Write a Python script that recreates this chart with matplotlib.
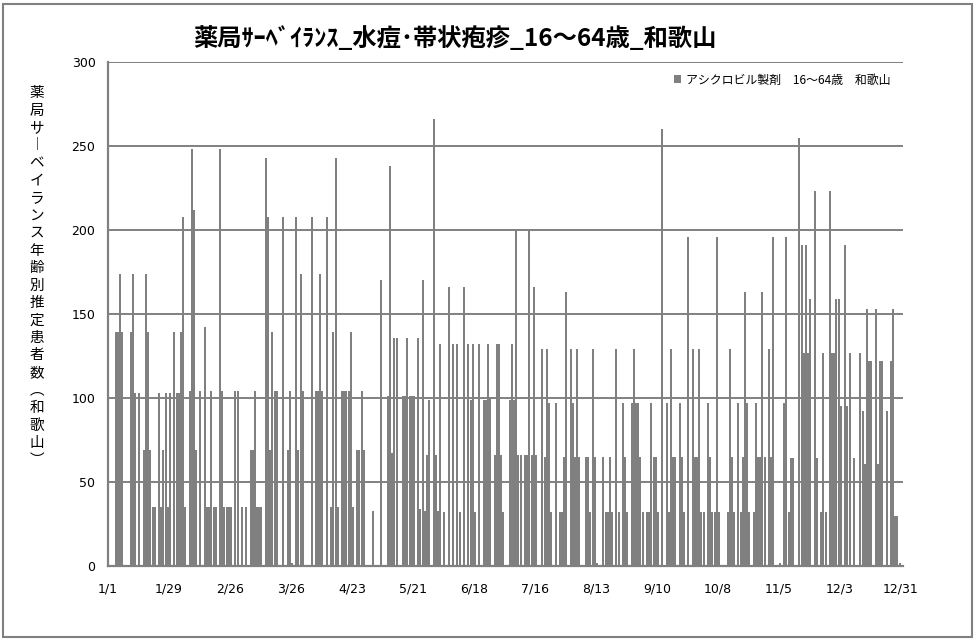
import matplotlib
matplotlib.use('Agg')
import matplotlib.pyplot as plt
from matplotlib.patches import Rectangle

plt.rcParams['font.family'] = ['Noto Sans CJK JP', 'DejaVu Sans']

# daily estimated patients, one list per month
jan = [0, 0, 0, 139, 139, 174, 139, 0, 0, 0, 139, 174, 103, 0, 103, 0, 69, 174, 139, 69,
       35, 35, 0, 103, 35, 69, 103, 35, 103, 0, 139]
feb = [103, 103, 139, 208, 35, 0, 104, 248, 212, 69, 0, 104, 0, 142, 35, 35, 104, 35, 35, 0,
       248, 104, 35, 35, 35, 35, 0, 104]
mar = [104, 0, 35, 0, 35, 0, 69, 69, 104, 35, 35, 35, 0, 243, 208, 69, 139, 104, 104, 0,
       0, 208, 0, 69, 104, 2, 0, 208, 69, 174, 104]
apr = [0, 0, 0, 208, 0, 104, 104, 174, 104, 0, 208, 0, 35, 139, 243, 35, 0, 104, 104, 104,
       104, 139, 35, 0, 69, 69, 104, 69, 0, 0]
may = [0, 33, 0, 0, 0, 170, 0, 0, 101, 238, 67, 136, 136, 0, 0, 101, 101, 136, 101, 101,
       101, 0, 136, 34, 170, 33, 66, 99, 0, 266, 66]
jun = [33, 132, 0, 32, 0, 166, 0, 132, 0, 132, 32, 0, 166, 0, 132, 99, 132, 32, 0, 132,
       0, 99, 99, 132, 100, 0, 66, 132, 132, 66]
jul = [32, 0, 0, 99, 132, 99, 200, 66, 66, 0, 66, 66, 200, 66, 166, 66, 0, 0, 129, 65,
       129, 97, 32, 0, 97, 0, 32, 32, 65, 163, 0]
aug = [129, 97, 65, 129, 65, 0, 0, 65, 65, 32, 129, 65, 2, 0, 0, 65, 32, 32, 65, 32,
       0, 129, 32, 0, 97, 65, 32, 0, 97, 129, 97]
sep = [97, 65, 32, 0, 32, 32, 97, 65, 65, 32, 0, 260, 0, 97, 32, 129, 65, 65, 0, 97,
       65, 32, 0, 196, 0, 129, 65, 65, 129, 32]
oct_ = [32, 0, 97, 65, 32, 32, 196, 32, 0, 0, 0, 32, 129, 65, 32, 0, 97, 32, 65, 163,
        97, 32, 0, 32, 97, 65, 65, 163, 65, 0, 129]
nov = [65, 196, 0, 0, 2, 0, 97, 196, 32, 64, 64, 0, 0, 255, 191, 127, 191, 127, 159, 0,
       223, 64, 0, 32, 127, 32, 0, 223, 127, 127]
dec = [159, 159, 95, 0, 191, 95, 127, 0, 64, 0, 0, 127, 92, 61, 153, 122, 122, 0, 153, 61,
       122, 122, 0, 92, 0, 122, 153, 30, 30, 2, 0]

tick_labels = ['1/1', '1/29', '2/26', '3/26', '4/23', '5/21', '6/18', '7/16',
               '8/13', '9/10', '10/8', '11/5', '12/3', '12/31']

title = '薬局ｻｰﾍﾞｲﾗﾝｽ_水痘･帯状疱疹_16～64歳_和歌山'
ylabel_chars = list('薬局サ') + ['︱'] + list('ベイランス年齢別推定患者数') + ['︵'] + list('和歌山') + ['︶']
series_name = 'アシクロビル製剤　16～64歳　和歌山'

counts = jan + feb + mar + apr + may + jun + jul + aug + sep + oct_ + nov + dec
days = list(range(len(counts)))

fig = plt.figure(figsize=(9.79, 6.43), dpi=100)
ax = fig.add_axes([108 / 979, 1 - 566 / 643, 795 / 979, 504 / 643])

ax.bar(days, counts, width=0.92, align='edge', color='#808080', label=series_name,
       antialiased=False, linewidth=0, zorder=2)
ax.set_xlim(0, 365)
ax.set_ylim(0, 300)
ax.set_yticks(range(0, 301, 50))
ax.set_xticks(range(0, 365, 28))
ax.set_xticklabels(tick_labels)
ax.grid(axis='y', color='#808080', linewidth=1.4, zorder=1)
ax.set_axisbelow(True)
for s in ['top', 'right']:
    ax.spines[s].set_visible(False)
for s in ['left', 'bottom']:
    ax.spines[s].set_color('#808080')
    ax.spines[s].set_linewidth(1.6)
ax.tick_params(axis='y', length=0, labelsize=9, pad=9)
ax.tick_params(axis='x', length=0, labelsize=9, pad=12)
for lab in ax.get_xticklabels() + ax.get_yticklabels():
    lab.set_family('DejaVu Sans')

fig.legend(loc='center left', bbox_to_anchor=(668 / 979, 1 - 80 / 643), frameon=False,
           fontsize=8.6, handlelength=0.6, handleheight=0.6, handletextpad=0.4, borderpad=0)

fig.text(455 / 979, 1 - 39 / 643, title, ha='center', va='center', fontsize=17.5, fontweight='bold')

y0 = 93
for i, ch in enumerate(ylabel_chars):
    fig.text(37 / 979, 1 - (y0 + i * 17.5) / 643, ch, ha='center', va='center', fontsize=10.5)

fig.add_artist(Rectangle((3 / 979, 1 - 637 / 643), 969 / 979, 633 / 643, transform=fig.transFigure,
                         fill=False, edgecolor='#808080', linewidth=1.5))

fig.savefig('out.png', dpi=100, facecolor='white')
